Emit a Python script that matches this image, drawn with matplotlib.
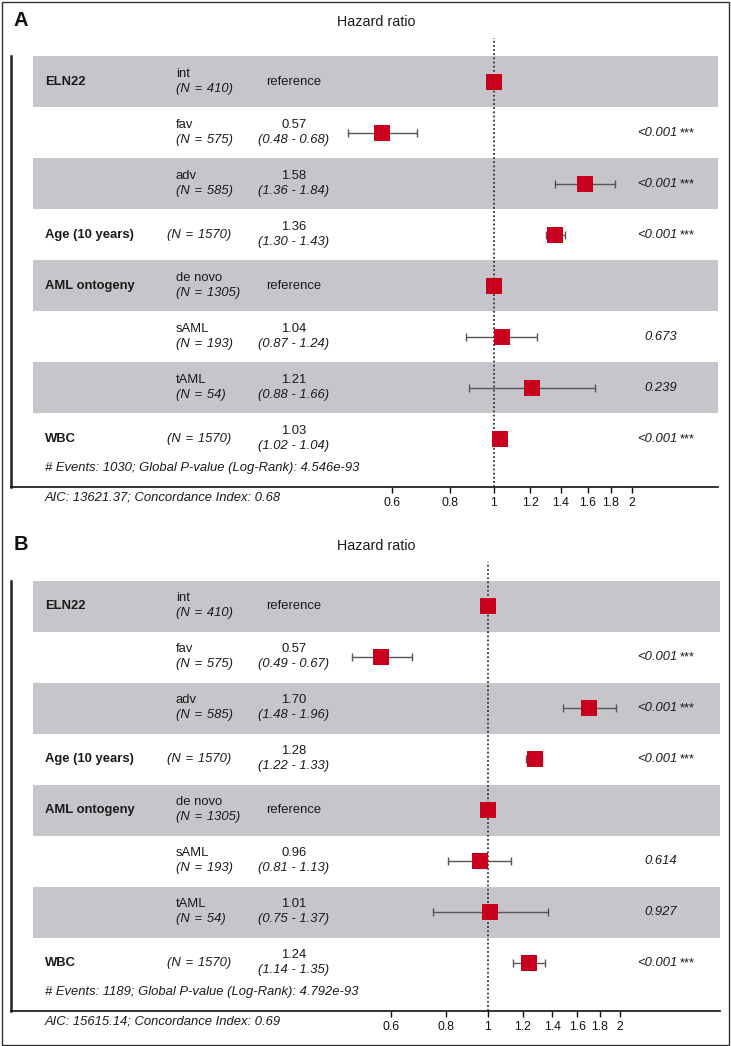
import numpy as np
import matplotlib
matplotlib.use('Agg')
import matplotlib.pyplot as plt
from matplotlib.patches import Rectangle
from matplotlib.transforms import blended_transform_factory
from matplotlib.ticker import NullLocator

plt.rcParams['font.family'] = ['Liberation Sans', 'DejaVu Sans']

W, H = 731, 1046

# rows shared by both models
var_names = ['ELN22', '', '', 'Age (10 years)', 'AML ontogeny', '', '', 'WBC']
levels = ['int', 'fav', 'adv', '', 'de novo', 'sAML', 'tAML', '']
n_obs = [410, 575, 585, 1570, 1305, 193, 54, 1570]
is_ref = [True, False, False, False, True, False, False, False]

# panel A
hr_a = [1.00, 0.57, 1.58, 1.36, 1.00, 1.04, 1.21, 1.03]
lo_a = [np.nan, 0.48, 1.36, 1.30, np.nan, 0.87, 0.88, 1.02]
hi_a = [np.nan, 0.68, 1.84, 1.43, np.nan, 1.24, 1.66, 1.04]
p_a = ['', '<0.001', '<0.001', '<0.001', '', '0.673', '0.239', '<0.001']
stars_a = ['', '***', '***', '***', '', '', '', '***']
events_a = 1030
globp_a = '4.546e-93'
aic_a = '13621.37'
cidx_a = '0.68'

# panel B
hr_b = [1.00, 0.57, 1.70, 1.28, 1.00, 0.96, 1.01, 1.24]
lo_b = [np.nan, 0.49, 1.48, 1.22, np.nan, 0.81, 0.75, 1.14]
hi_b = [np.nan, 0.67, 1.96, 1.33, np.nan, 1.13, 1.37, 1.35]
p_b = ['', '<0.001', '<0.001', '<0.001', '', '0.614', '0.927', '<0.001']
stars_b = ['', '***', '***', '***', '', '', '', '***']
events_b = 1189
globp_b = '4.792e-93'
aic_b = '15615.14'
cidx_b = '0.69'

ticks = [0.6, 0.8, 1, 1.2, 1.4, 1.6, 1.8, 2]

RED = '#C8001E'
GREY = '#C6C5C9'
TXT = '#1a1a1a'
FS = 9.4
SP = ' \u200a'

fig = plt.figure(figsize=(W / 100, H / 100), dpi=100)


def forest(letter, off, hr1px, pxper, rightpx, hr, lo, hi, pv, st, ev, gp, aic, cidx):
    leftpx = 11
    ax = fig.add_axes([leftpx / W, 1 - (487 + off) / H,
                       (rightpx - leftpx) / W, 449 / H])
    ax.set_xscale('log')
    ax.set_xlim(np.exp((leftpx - hr1px) / pxper), np.exp((rightpx - hr1px) / pxper))
    ytop = (38 - 82) / 51
    ybot = (487 - 82) / 51
    ax.set_ylim(ybot, ytop)
    tx = lambda px: (px - leftpx) / (rightpx - leftpx)
    tr = blended_transform_factory(ax.transAxes, ax.transData)

    nrow = len(hr)
    rows = np.arange(nrow)
    for i in rows:
        if i % 2 == 0:
            ax.axhspan(i - 0.5, i + 0.5, xmin=tx(33), xmax=1, color=GREY, lw=0, zorder=0)

    ax.axvline(1, ls=(0, (1, 1.3)), color='#333333', lw=1.3, zorder=1)

    lo_ = np.array(lo)
    hi_ = np.array(hi)
    ok = ~np.isnan(lo_)
    ax.hlines(rows[ok], lo_[ok], hi_[ok], color='#555555', lw=1, zorder=2)
    ax.vlines(np.r_[lo_[ok], hi_[ok]], np.r_[rows[ok], rows[ok]] - 0.08,
              np.r_[rows[ok], rows[ok]] + 0.08, color='#555555', lw=1, zorder=2)
    ax.scatter(hr, rows, marker='s', s=117, color=RED, lw=0, zorder=3)

    up, dn = -8 / 51, 7 / 51
    for i in rows:
        nlab = '(N' + SP + '=' + SP + '%d)' % n_obs[i]
        if var_names[i]:
            ax.text(tx(45), i, var_names[i], transform=tr, fontsize=FS,
                    weight='bold', va='center', color=TXT)
        if levels[i]:
            ax.text(tx(176), i + up, levels[i], transform=tr, fontsize=FS,
                    va='center', color=TXT)
            ax.text(tx(176), i + dn, nlab, transform=tr,
                    fontsize=FS, style='italic', va='center', color=TXT)
        else:
            ax.text(tx(167), i, nlab, transform=tr,
                    fontsize=FS, style='italic', va='center', color=TXT)
        if is_ref[i]:
            ax.text(tx(294), i, 'reference', transform=tr, fontsize=FS,
                    ha='center', va='center', color=TXT)
        else:
            ax.text(tx(294), i + up, '%.2f' % hr[i], transform=tr, fontsize=FS,
                    ha='center', va='center', color=TXT)
            ax.text(tx(294), i + dn, '(%.2f - %.2f)' % (lo[i], hi[i]), transform=tr,
                    fontsize=FS, style='italic', ha='center', va='center', color=TXT)
        if pv[i]:
            ax.text(tx(677), i, pv[i], transform=tr, fontsize=FS, style='italic',
                    ha='right', va='center', color=TXT)
        if st[i]:
            ax.text(tx(680), i, st[i], transform=tr, fontsize=FS,
                    ha='left', va='center', color=TXT)

    ax.text(tx(45), (468 - 82) / 51,
            '# Events: %d; Global P-value (Log-Rank): %s' % (ev, gp),
            transform=tr, fontsize=FS, style='italic', va='center', color=TXT)

    for s in ['top', 'right']:
        ax.spines[s].set_visible(False)
    ax.spines['left'].set_bounds(-0.5, ybot)
    ax.spines['left'].set_linewidth(1.8)
    ax.spines['left'].set_color('#222222')
    ax.spines['bottom'].set_linewidth(1.2)
    ax.spines['bottom'].set_color('#111111')
    ax.set_yticks([])
    ax.set_xticks(ticks)
    ax.set_xticklabels(['%g' % t for t in ticks])
    ax.xaxis.set_minor_locator(NullLocator())
    ax.tick_params(axis='x', direction='out', length=4, width=1, pad=3.5,
                   labelsize=8.8, colors='#111111')
    ax.patch.set_alpha(0)

    fig.text(45 / W, 1 - (498 + off) / H,
             'AIC: %s; Concordance Index: %s' % (aic, cidx),
             fontsize=FS, style='italic', va='center', color=TXT)
    fig.text(376 / W, 1 - (22 + off) / H, 'Hazard ratio', fontsize=10.3,
             ha='center', va='center', color=TXT)
    fig.text(14 / W, 1 - (21 + off) / H, letter, fontsize=14.5, weight='bold',
             ha='left', va='center', color='#111111')


forest('A', 0, 494, 199.0, 718, hr_a, lo_a, hi_a, p_a, stars_a,
       events_a, globp_a, aic_a, cidx_a)
forest('B', 524, 488, 190.4, 720, hr_b, lo_b, hi_b, p_b, stars_b,
       events_b, globp_b, aic_b, cidx_b)

fig.patches.append(Rectangle((1.5 / W, 1.5 / H), 727 / W, 1043 / H,
                             transform=fig.transFigure, fill=False,
                             lw=1, ec='#333333'))

fig.savefig('out.png', dpi=100)
